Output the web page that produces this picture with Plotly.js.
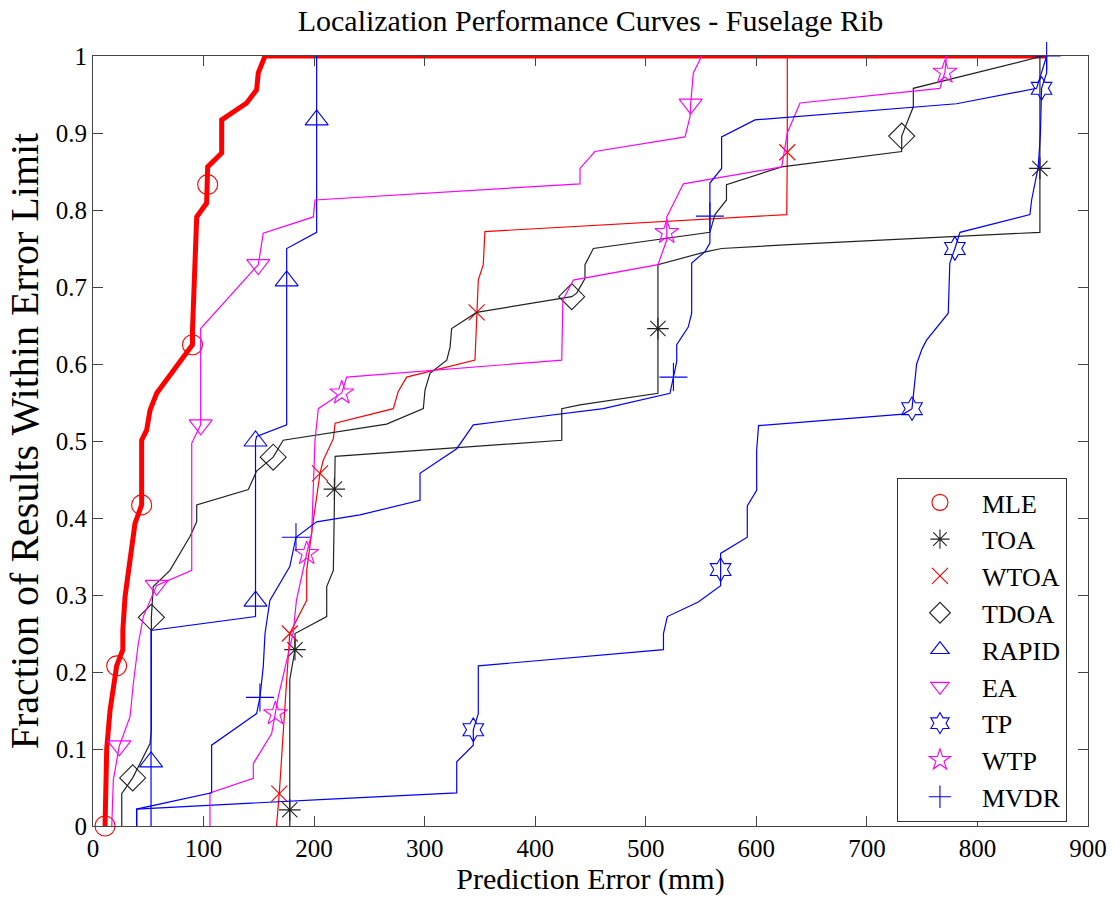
<!DOCTYPE html>
<html>
<head>
<meta charset="utf-8">
<script src="https://cdn.plot.ly/plotly-3.0.1.min.js"></script>
<style>html,body{margin:0;padding:0;background:#fff}</style>
</head>
<body>
<div id="chart" style="width:1120px;height:900px"></div>
<script>
// Cumulative localization curves: prediction error (mm) vs. fraction of results within limit.
const mleX = [10.9, 12.4, 15.4, 21.4, 27, 27, 29, 33.5, 38, 44, 44, 48.5, 51.6, 57.6, 66.6, 78.7, 87.7, 90, 90, 93.8, 102.8, 103.7, 103.7, 116.4, 116.4, 139, 148, 149.5, 155.6, 862.5];
const mleY = [0, 0.10, 0.15, 0.208, 0.229, 0.254, 0.298, 0.341, 0.393, 0.417, 0.501, 0.514, 0.54, 0.562, 0.579, 0.601, 0.618, 0.625, 0.644, 0.791, 0.809, 0.833, 0.856, 0.874, 0.917, 0.939, 0.956, 0.978, 1.0, 1.0];
const mleMarkX = [10.9, 21.4, 44, 90, 103.7];
const mleMarkY = [0, 0.208, 0.417, 0.625, 0.833];

const toaX = [178, 178, 178, 182.7, 182.7, 211.4, 211.4, 217.4, 218.3, 219, 424, 424, 440.5, 511, 511, 511, 555, 568.6, 630, 856.5, 856.5, 856.5];
const toaY = [0, 0.021, 0.19, 0.229, 0.25, 0.272, 0.311, 0.332, 0.4375, 0.48, 0.501, 0.542, 0.547, 0.562, 0.646, 0.729, 0.746, 0.750, 0.755, 0.771, 0.854, 1.0];
const toaMarkX = [178, 182.7, 218.3, 511, 856.5];
const toaMarkY = [0.021, 0.229, 0.4375, 0.646, 0.854];

const wtoaX = [166, 168.5, 172, 175, 178, 193.3, 193.3, 199.3, 205.3, 208.3, 217.4, 219, 271.6, 276, 283.7, 345.5, 347, 348.5, 353, 354.5, 627.5, 628, 628];
const wtoaY = [0, 0.042, 0.12, 0.19, 0.25, 0.293, 0.332, 0.397, 0.458, 0.475, 0.503, 0.523, 0.542, 0.564, 0.583, 0.605, 0.667, 0.709, 0.729, 0.772, 0.794, 0.875, 1.0];
const wtoaMarkX = [168.5, 178, 205.3, 347, 628];
const wtoaMarkY = [0.042, 0.25, 0.458, 0.667, 0.875];

const tdoaX = [26, 26, 35.9, 51.6, 52.8, 52.8, 52.8, 54.5, 69.6, 87.7, 93.8, 93.8, 140.5, 148, 163, 172, 265.6, 298.8, 300.3, 304.8, 320, 323, 324.4, 347, 433, 437.5, 445, 445, 452.6, 558, 562.6, 573, 573, 623, 731.5, 731.5, 742, 742, 859.5];
const tdoaY = [0, 0.042, 0.0625, 0.107, 0.125, 0.255, 0.271, 0.311, 0.332, 0.376, 0.395, 0.417, 0.437, 0.461, 0.479, 0.501, 0.522, 0.542, 0.566, 0.588, 0.605, 0.622, 0.646, 0.667, 0.6875, 0.692, 0.711, 0.729, 0.75, 0.771, 0.794, 0.813, 0.833, 0.856, 0.876, 0.896, 0.934, 0.958, 1.0];
const tdoaMarkX = [35.9, 52.8, 163, 433, 731.5];
const tdoaMarkY = [0.0625, 0.271, 0.479, 0.6875, 0.896];

const rapidX = [52.5, 52.5, 52.5, 147, 147, 147, 148, 175.2, 175.2, 175.2, 202.3, 202.3, 202.3];
const rapidY = [0, 0.0833, 0.254, 0.272, 0.292, 0.5, 0.506, 0.521, 0.708, 0.75, 0.771, 0.917, 1.0];
const rapidMarkX = [52.5, 147, 147, 175.2, 202.3];
const rapidMarkY = [0.0833, 0.292, 0.5, 0.708, 0.917];

const eaX = [17, 18.4, 23.8, 33.5, 36.5, 41, 45.5, 57.6, 89.3, 89.3, 97.4, 97.4, 149.5, 154, 199.3, 200.8, 440.5, 440.5, 454, 535.5, 540, 540.6, 543, 550.6];
const eaY = [0, 0.06, 0.104, 0.142, 0.185, 0.237, 0.272, 0.3125, 0.332, 0.497, 0.521, 0.646, 0.729, 0.770, 0.791, 0.813, 0.834, 0.854, 0.876, 0.895, 0.921, 0.9375, 0.978, 1.0];
const eaMarkX = [23.8, 57.6, 97.4, 149.5, 540.6];
const eaMarkY = [0.104, 0.3125, 0.521, 0.729, 0.9375];

const tpX = [39.5, 39.5, 214.4, 329, 329, 344, 344, 348.5, 348.5, 516, 516, 519.5, 547.5, 567.7, 567.7, 567.7, 591.8, 591.8, 600.3, 600.3, 602, 733, 740.8, 742, 745, 750, 754, 773.6, 775, 779.6, 784.2, 847.5, 849, 855, 857, 858, 862.6, 862.6];
const tpY = [0, 0.022, 0.035, 0.043, 0.0835, 0.105, 0.125, 0.146, 0.208, 0.229, 0.25, 0.272, 0.291, 0.312, 0.333, 0.354, 0.375, 0.4156, 0.436, 0.488, 0.52, 0.535, 0.542, 0.56, 0.6, 0.62, 0.631, 0.666, 0.731, 0.75, 0.771, 0.794, 0.813, 0.856, 0.9, 0.958, 0.978, 1.0];
const tpMarkX = [344, 567.7, 740.8, 779.6, 858];
const tpMarkY = [0.125, 0.333, 0.542, 0.75, 0.958];

const wtpX = [105.8, 105.8, 145, 145, 161.6, 165, 167.6, 181, 184, 193.3, 197.8, 200.8, 203.8, 225, 229.5, 424, 425, 434.5, 511, 519, 519, 519, 534, 623, 628, 639.5, 766, 770.6, 772];
const wtpY = [0, 0.043, 0.062, 0.081, 0.12, 0.146, 0.168, 0.25, 0.293, 0.354, 0.38, 0.501, 0.542, 0.5625, 0.583, 0.605, 0.683, 0.709, 0.729, 0.761, 0.771, 0.791, 0.834, 0.856, 0.9, 0.939, 0.958, 0.979, 1.0];
const wtpMarkX = [165, 193.3, 225, 519, 770.6];
const wtpMarkY = [0.146, 0.354, 0.5625, 0.771, 0.979];

const mvdrX = [39.5, 39.5, 107.3, 107.3, 148, 151, 154, 155.6, 160, 178, 183.6, 202.3, 241.5, 295.8, 295.8, 329, 344, 404, 461.6, 521.9, 525, 528, 528, 538.4, 541.5, 541.5, 553.6, 558, 558, 558, 568.6, 568.6, 598.8, 781, 853.5, 862.6];
const mvdrY = [0, 0.022, 0.043, 0.105, 0.146, 0.167, 0.207, 0.25, 0.293, 0.337, 0.375, 0.395, 0.404, 0.423, 0.458, 0.49, 0.521, 0.532, 0.542, 0.562, 0.583, 0.603, 0.625, 0.648, 0.666, 0.731, 0.746, 0.757, 0.792, 0.835, 0.854, 0.895, 0.917, 0.938, 0.958, 1.0];
const mvdrMarkX = [151, 183.6, 525, 558, 862.6];
const mvdrMarkY = [0.167, 0.375, 0.583, 0.792, 1.0];

const xTicks = [0, 100, 200, 300, 400, 500, 600, 700, 800, 900];
const yTicks = [0, 0.1, 0.2, 0.3, 0.4, 0.5, 0.6, 0.7, 0.8, 0.9, 1];
const yTickText = ['0', '0.1', '0.2', '0.3', '0.4', '0.5', '0.6', '0.7', '0.8', '0.9', '1'];

const series = [
  {name: 'MLE',  x: mleX,   y: mleY,   mx: mleMarkX,   my: mleMarkY,   color: '#ff0000', width: 5,   symbol: 'circle-open',        size: 20},
  {name: 'TOA',  x: toaX,   y: toaY,   mx: toaMarkX,   my: toaMarkY,   color: '#222222', width: 1.2, symbol: 'asterisk-open',      size: 18},
  {name: 'WTOA', x: wtoaX,  y: wtoaY,  mx: wtoaMarkX,  my: wtoaMarkY,  color: '#ff0000', width: 1.2, symbol: 'x-thin-open',        size: 16},
  {name: 'TDOA', x: tdoaX,  y: tdoaY,  mx: tdoaMarkX,  my: tdoaMarkY,  color: '#222222', width: 1.2, symbol: 'diamond-open',       size: 20},
  {name: 'RAPID',x: rapidX, y: rapidY, mx: rapidMarkX, my: rapidMarkY, color: '#0000ff', width: 1.2, symbol: 'triangle-up-open',   size: 20},
  {name: 'EA',   x: eaX,    y: eaY,    mx: eaMarkX,    my: eaMarkY,    color: '#ff00ff', width: 1.2, symbol: 'triangle-down-open', size: 20},
  {name: 'TP',   x: tpX,    y: tpY,    mx: tpMarkX,    my: tpMarkY,    color: '#0000ff', width: 1.2, symbol: 'hexagram-open',      size: 18},
  {name: 'WTP',  x: wtpX,   y: wtpY,   mx: wtpMarkX,   my: wtpMarkY,   color: '#ff00ff', width: 1.2, symbol: 'star-open',          size: 18},
  {name: 'MVDR', x: mvdrX,  y: mvdrY,  mx: mvdrMarkX,  my: mvdrMarkY,  color: '#0000ff', width: 1.2, symbol: 'cross-thin-open',    size: 20}
];

const traces = [];
series.forEach(s => {
  traces.push({
    type: 'scatter', mode: 'lines', x: s.x, y: s.y,
    line: {color: s.color, width: s.width},
    legendgroup: s.name, showlegend: false, hoverinfo: 'skip',
    cliponaxis: false
  });
  traces.push({
    type: 'scatter', mode: 'markers', x: s.mx, y: s.my, name: s.name,
    legendgroup: s.name, cliponaxis: false,
    marker: {symbol: s.symbol, size: s.size, color: s.color, line: {color: s.color, width: 1.1}}
  });
});

const serif = 'Liberation Serif, Times New Roman, serif';
const axisCommon = {
  showgrid: false, zeroline: false, showline: true, linecolor: '#444', linewidth: 1,
  mirror: 'ticks', ticks: 'inside', ticklen: 10, tickcolor: '#444', tickwidth: 1,
  tickfont: {family: serif, size: 25, color: '#000'}
};

const layout = {
  width: 1120, height: 900,
  paper_bgcolor: '#fff', plot_bgcolor: '#fff',
  margin: {l: 93, r: 32, t: 56, b: 74},
  title: {text: 'Localization Performance Curves - Fuselage Rib', x: 0.5, xref: 'paper',
          y: 0.977, yref: 'container', yanchor: 'middle',
          font: {family: serif, size: 30, color: '#000'}},
  xaxis: Object.assign({}, axisCommon, {
    range: [0, 900], tickvals: xTicks,
    title: {text: 'Prediction Error (mm)', standoff: 2, font: {family: serif, size: 30, color: '#000'}}
  }),
  yaxis: Object.assign({}, axisCommon, {
    range: [0, 1], tickvals: yTicks, ticktext: yTickText,
    title: {text: 'Fraction of Results Within Error Limit', standoff: 4, font: {family: serif, size: 40, color: '#000'}}
  }),
  legend: {
    x: 0.808, y: 0.452, xanchor: 'left', yanchor: 'top',
    bgcolor: '#fff', bordercolor: '#333', borderwidth: 1,
    font: {family: serif, size: 26, color: '#000'},
    traceorder: 'grouped', tracegroupgap: 0, itemwidth: 74
  },
  showlegend: true
};

Plotly.newPlot('chart', traces, layout, {displayModeBar: false, staticPlot: true});
</script>
</body>
</html>
